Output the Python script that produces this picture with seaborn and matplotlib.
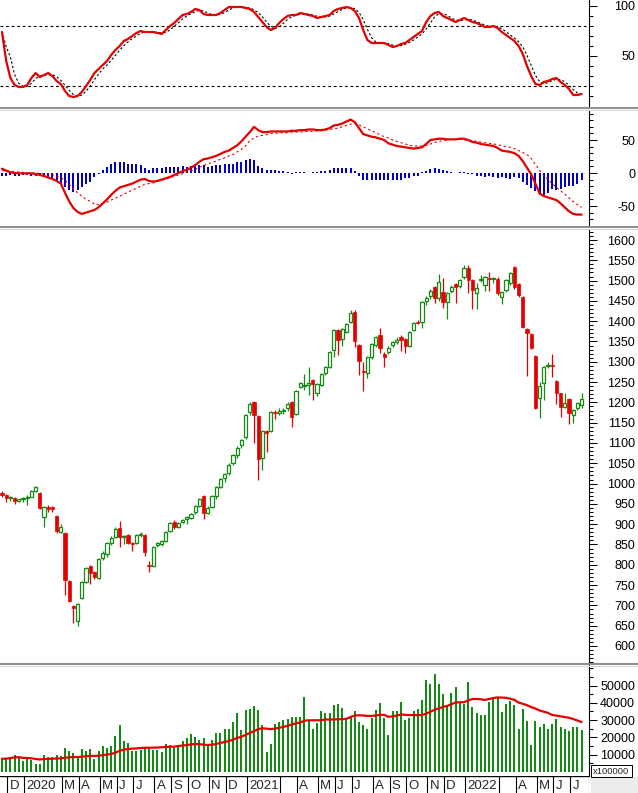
import numpy as np
import pandas as pd
import matplotlib
matplotlib.use("Agg")
import matplotlib.pyplot as plt
import seaborn as sns
from matplotlib.lines import Line2D
from matplotlib.patches import Rectangle

sns.set_style("white")
plt.rcParams['font.family'] = ['Liberation Sans', 'DejaVu Sans']

# ---------------- data (weekly bars, Nov 2019 - Jul 2022) ----------------
open_ = [978, 972, 964, 965, 958, 961, 964, 968, 982, 978,
         918, 942, 942, 920, 880, 878, 760, 698, 662, 718,
         758, 797, 782, 768, 817, 826, 853, 869, 890, 868,
         873, 853, 853, 873, 873, 799, 797, 849, 850, 858,
         883, 905, 893, 905, 912, 915, 930, 945, 970, 928,
         943, 970, 991, 1014, 1026, 1050, 1070, 1095, 1115, 1176,
         1201, 1166, 1063, 1130, 1130, 1176, 1174, 1178, 1186, 1201,
         1171, 1238, 1241, 1242, 1255, 1223, 1243, 1272, 1287, 1329,
         1378, 1355, 1374, 1399, 1423, 1341, 1277, 1272, 1312, 1341,
         1366, 1320, 1324, 1341, 1348, 1361, 1356, 1339, 1378, 1399,
         1398, 1450, 1462, 1484, 1457, 1472, 1447, 1475, 1491, 1487,
         1509, 1531, 1502, 1470, 1501, 1489, 1507, 1504, 1504, 1460,
         1477, 1494, 1534, 1492, 1460, 1381, 1368, 1314, 1211, 1248,
         1290, 1291, 1253, 1222, 1189, 1208, 1170, 1186, 1194]
high = [982, 974, 970, 967, 963, 968, 972, 984, 993, 980,
        945, 948, 946, 922, 900, 880, 762, 702, 705, 760,
        795, 800, 785, 816, 835, 856, 870, 892, 908, 874,
        876, 855, 876, 880, 875, 810, 846, 857, 862, 884,
        906, 910, 906, 914, 920, 928, 948, 965, 973, 945,
        972, 994, 1014, 1026, 1050, 1073, 1092, 1110, 1172, 1200,
        1203, 1170, 1133, 1132, 1178, 1181, 1187, 1185, 1200, 1203,
        1230, 1250, 1270, 1288, 1258, 1248, 1273, 1290, 1327, 1382,
        1380, 1383, 1396, 1428, 1428, 1344, 1300, 1315, 1347, 1364,
        1383, 1323, 1338, 1352, 1360, 1365, 1358, 1377, 1398, 1402,
        1450, 1462, 1480, 1487, 1516, 1507, 1473, 1490, 1494, 1505,
        1539, 1539, 1505, 1494, 1513, 1512, 1520, 1510, 1508, 1475,
        1505, 1522, 1536, 1495, 1462, 1384, 1370, 1316, 1250, 1290,
        1300, 1318, 1256, 1224, 1222, 1210, 1184, 1202, 1223]
low = [968, 955, 958, 950, 955, 955, 948, 966, 980, 938,
       893, 930, 930, 878, 878, 726, 708, 656, 650, 716,
       756, 752, 765, 765, 812, 820, 848, 866, 844, 850,
       852, 835, 850, 868, 822, 782, 795, 845, 846, 855,
       880, 888, 890, 902, 900, 912, 926, 942, 913, 925,
       940, 962, 988, 1005, 1022, 1045, 1062, 1088, 1110, 1170,
       1100, 1009, 1034, 1078, 1128, 1158, 1170, 1172, 1180, 1139,
       1168, 1235, 1231, 1218, 1206, 1215, 1240, 1268, 1285, 1312,
       1317, 1340, 1370, 1396, 1336, 1268, 1228, 1260, 1308, 1336,
       1322, 1287, 1320, 1336, 1345, 1327, 1322, 1336, 1375, 1392,
       1383, 1440, 1455, 1445, 1450, 1432, 1405, 1470, 1446, 1482,
       1505, 1470, 1430, 1430, 1497, 1475, 1475, 1495, 1465, 1442,
       1472, 1490, 1480, 1460, 1383, 1265, 1332, 1183, 1162, 1206,
       1285, 1262, 1196, 1164, 1185, 1147, 1150, 1182, 1185]
close = [972, 965, 966, 958, 961, 965, 968, 982, 991, 940,
         942, 938, 938, 883, 893, 763, 711, 694, 703, 758,
         792, 780, 770, 814, 829, 853, 866, 888, 868, 870,
         854, 850, 873, 876, 832, 796, 844, 853, 858, 881,
         903, 893, 903, 911, 917, 925, 945, 962, 928, 940,
         970, 991, 1011, 1023, 1046, 1070, 1088, 1107, 1169, 1196,
         1169, 1061, 1130, 1125, 1176, 1173, 1179, 1181, 1196, 1164,
         1228, 1248, 1243, 1248, 1245, 1245, 1270, 1287, 1324, 1378,
         1354, 1380, 1393, 1420, 1351, 1302, 1275, 1312, 1344, 1361,
         1334, 1313, 1334, 1349, 1354, 1354, 1339, 1374, 1395, 1396,
         1447, 1457, 1475, 1457, 1497, 1447, 1470, 1484, 1485, 1502,
         1531, 1502, 1477, 1482, 1503, 1509, 1505, 1507, 1470, 1472,
         1502, 1519, 1484, 1465, 1386, 1371, 1334, 1186, 1241, 1287,
         1292, 1289, 1222, 1189, 1199, 1174, 1181, 1198, 1208]
volume = [7700, 7700, 8650, 10000, 8650, 6300, 7700, 6700, 4400, 4400,
          10000, 8650, 8650, 9600, 9200, 14000, 12100, 11000, 8300, 13500,
          12100, 13500, 7300, 12100, 14800, 14000, 14800, 20600, 26900, 17700,
          16700, 12100, 12100, 12900, 14000, 13500, 12900, 12900, 11500, 16300,
          15400, 14000, 15400, 17700, 19800, 21700, 20200, 18300, 19800, 15400,
          18700, 22500, 22500, 25000, 25000, 28800, 34000, 24000, 36000, 36500,
          37900, 35600, 26900, 11500, 16000, 27500, 28800, 29800, 30800, 31700,
          31700, 32000, 43500, 29600, 25000, 28200, 35000, 34000, 34000, 38600,
          39200, 36900, 30800, 32000, 35000, 28900, 26900, 24600, 31400, 35700,
          39800, 31000, 21100, 35000, 35000, 40600, 30000, 31400, 35000, 36300,
          41600, 52900, 51000, 56800, 51000, 45100, 38200, 45700, 49000, 40600,
          39200, 52300, 37300, 34300, 32700, 32700, 40600, 42500, 42500, 34700,
          39200, 41200, 38600, 25100, 36700, 29400, 15800, 29400, 25900, 27500,
          25100, 27500, 30800, 25900, 25100, 23500, 25900, 25900, 24100]
stoch_k = [74, 45, 28, 21, 19, 19, 21, 28, 33, 29,
           31, 33, 30, 25, 22, 15, 10, 9, 10, 14,
           20, 26, 33, 37, 41, 45, 51, 56, 60, 65,
           67, 70, 73, 75, 74, 74, 74, 73, 72, 76,
           80, 83, 87, 91, 92, 94, 97, 96, 92, 91,
           91, 91, 93, 96, 99, 99, 99, 99, 98, 97,
           94, 89, 84, 79, 76, 78, 83, 87, 90, 91,
           91, 93, 92, 91, 90, 88, 89, 90, 91, 95,
           97, 98, 99, 98, 95, 88, 76, 66, 63, 63,
           63, 63, 61, 59, 60, 62, 63, 66, 69, 72,
           75, 84, 90, 93, 94, 90, 88, 86, 84, 86,
           88, 86, 84, 83, 81, 79, 79, 80, 78, 74,
           71, 68, 65, 60, 52, 40, 30, 22, 21, 24,
           25, 27, 28, 24, 21, 17, 11, 11, 12]
macd = [6.5, 3.5, 1, 0, -0.5, -0.5, -0.5, -0.5, -1.5, -3,
        -4.5, -7, -9, -12, -16, -30, -43, -53, -59, -62,
        -60, -58, -56, -52, -46, -40, -33, -27, -22, -20,
        -18, -16, -13, -10, -9, -12, -13, -12, -10, -8,
        -6, -3, 0, 3, 5, 8, 12, 17, 21, 22,
        24, 26, 29, 32, 34, 38, 42, 48, 55, 62,
        70, 65, 62, 62, 63, 63, 63, 63, 63, 64,
        64, 65, 65, 66, 66, 65, 65, 66, 68, 72,
        73, 75, 78, 81, 77, 68, 59, 57, 55, 54,
        52, 50, 45, 43, 41, 40, 39, 38, 37, 38,
        39, 44, 50, 51, 52, 52, 51, 51, 51, 52,
        52, 50, 47, 46, 44, 43, 42, 41, 38, 34,
        33, 32, 30, 26, 18, 8, -2, -16, -31, -35,
        -37, -39, -41, -46, -52, -58, -62, -63, -63]
macd_signal = [4, 3, 2.5, 2, 1.5, 1, 0.5, 0, 0, -0.5,
               -1, -2, -3, -5, -7, -11, -17, -24, -30, -35,
               -40, -43, -47, -48, -46, -44, -41, -38, -35, -32,
               -29, -26, -23, -20, -17, -16, -15, -13, -11, -9,
               -7, -5, -3, -1, 1, 3, 5, 9, 11, 14,
               16, 18, 21, 23, 26, 28, 32, 36, 41, 49,
               53, 56, 57, 58, 60, 60, 61, 61, 61, 62,
               62, 62, 63, 63, 63, 64, 64, 65, 66, 67,
               68, 70, 72, 74, 75, 73, 70, 67, 64, 61,
               58, 55, 53, 50, 48, 46, 44, 42, 41, 41,
               41, 42, 44, 46, 48, 49, 50, 51, 51, 51,
               50, 50, 49, 48, 47, 46, 45, 44, 43, 41,
               40, 39, 37, 34, 31, 28, 22, 13, 4, -3,
               -10, -16, -22, -27, -32, -38, -43, -48, -52]
macd_hist = [-4, -4, -3, -4, -4, -3, -3, -4, -4, -5,
             -6, -7, -8, -10, -16, -21, -26, -29, -26, -21,
             -16, -13, -6, -1, 4, 9, 14, 16, 16, 16,
             13, 13, 13, 12, 8, 4, 7, 7, 7, 9,
             9, 9, 9, 11, 9, 11, 11, 12, 12, 9,
             11, 12, 12, 13, 14, 14, 16, 16, 19, 21,
             19, 11, 8, 4, 4, 4, 3, 3, 2, -1,
             2, 1, 1, 0.5, 1, 1, 3, 3, 4, 7,
             8, 8, 8, 8, 3, -4, -10, -11, -11, -11,
             -10, -11, -11, -10, -10, -10, -8, -8, -5, -4,
             2, 3, 6, 7, 6, 4, 3, 2, 0.5, 2,
             2, -1, -1, -4, -5, -6, -5, -6, -8, -6,
             -8, -9, -6, -8, -13, -18, -23, -28, -34, -34,
             -30, -24, -26, -24, -21, -20, -19, -16, -11]

# month separators on the time strip (bar index of first week of month)
month_labels = ["D", "2020", "M", "A", "M", "J", "J", "A", "S", "O", "N", "D",
                "2021", "", "A", "M", "J", "J", "A", "S", "O", "N", "D",
                "2022", "", "A", "M", "J", "J"]
month_bar = [1, 5, 14, 18, 23, 27, 31, 36, 40, 44, 49, 53,
             58, 66, 70, 75, 79, 83, 88, 92, 96, 101, 105,
             110, 118, 122, 127, 131, 135]

stoch_ticks = [50, 100]
macd_ticks = [-50, 0, 50]
price_ticks = list(range(600, 1601, 50))
vol_ticks = [10000, 20000, 30000, 40000, 50000]
vol_unit = "x100000"

# ---------------- derived ----------------
n = len(close)
idx = np.arange(n)
o = np.array(open_, float); c = np.array(close, float)
h = np.array(high, float); l = np.array(low, float)
vol = np.array(volume, float)
vol_ma = pd.Series(vol).rolling(20, min_periods=1).mean().values
stoch_d = pd.Series(stoch_k, dtype=float).rolling(3, min_periods=1).mean().values

RED = "#e40000"
GREEN = "#138a13"
BLUE = "#0000c8"

W, H = 638, 793
AXW = 589
PX = 4.2
XLIM = (-2 / PX, (AXW - 2) / PX)

fig = plt.figure(figsize=(W / 100, H / 100), dpi=100)
fig.patch.set_facecolor("white")


def add_ax(top, bottom):
    return fig.add_axes([0, 1 - bottom / H, AXW / W, (bottom - top) / H])


def style(ax, ylim, major, minor, labels):
    ax.set_xlim(XLIM)
    ax.set_ylim(ylim)
    ax.set_facecolor("white")
    for s in ["top", "left", "bottom"]:
        ax.spines[s].set_visible(False)
    ax.spines["right"].set_color("black")
    ax.spines["right"].set_linewidth(0.8)
    ax.yaxis.tick_right()
    ax.set_yticks(major)
    ax.set_yticklabels(labels)
    ax.set_yticks(minor, minor=True)
    ax.tick_params(axis="y", which="major", direction="out", length=5.8,
                   width=0.75, pad=27.4, labelsize=9, colors="black")
    ax.tick_params(axis="y", which="minor", direction="out", length=2.9,
                   width=0.75, colors="black")
    plt.setp(ax.get_yticklabels(), ha="right")
    ax.set_xticks([])
    ax.set_xlabel("")
    ax.set_ylabel("")


# ---- stochastic ----
ax_s = add_ax(0, 107)
ax_s.axhline(80, color="black", lw=0.8, ls=(0, (2.5, 2.5)))
ax_s.axhline(20, color="black", lw=0.8, ls=(0, (2.5, 2.5)))
sns.lineplot(x=idx, y=stoch_d, ax=ax_s, color="black", lw=0.8,
             linestyle=(0, (2, 2)), estimator=None)
sns.lineplot(x=idx, y=stoch_k, ax=ax_s, color=RED, lw=1.6, estimator=None)
style(ax_s, (-1, 106), stoch_ticks, list(range(10, 101, 10)),
      [str(t) for t in stoch_ticks])

# ---- MACD ----
ax_m = add_ax(110, 226)
ax_m.bar(idx, macd_hist, width=0.45, color=BLUE, lw=0)
sns.lineplot(x=idx, y=macd_signal, ax=ax_m, color=RED, lw=0.8,
             linestyle=(0, (2, 2.5)), estimator=None)
sns.lineplot(x=idx, y=macd, ax=ax_m, color=RED, lw=1.6, estimator=None)
style(ax_m, (-80.3, 95.5), macd_ticks, list(range(-70, 91, 10)),
      [str(t) for t in macd_ticks])

# ---- price candles ----
ax_p = add_ax(229, 663)
up = c >= o
body_lo = np.minimum(o, c)
body_h = np.maximum(np.abs(c - o), 1.3)
wick_col = np.where(up, GREEN, RED)
ax_p.vlines(idx, l, h, colors=wick_col, lw=0.9, zorder=2)
ax_p.bar(idx[up], body_h[up], bottom=body_lo[up], width=0.72,
         facecolor="white", edgecolor=GREEN, linewidth=0.9, zorder=3)
ax_p.bar(idx[~up], body_h[~up], bottom=body_lo[~up], width=0.72,
         facecolor=RED, edgecolor=RED, linewidth=0.5, zorder=3)
style(ax_p, (558.1, 1627.1), price_ticks, list(range(560, 1621, 10)),
      [str(t) for t in price_ticks])

# ---- volume ----
ax_v = add_ax(665, 776)
ax_v.bar(idx, vol, width=0.5, color=GREEN, lw=0)
sns.lineplot(x=idx, y=vol_ma, ax=ax_v, color=RED, lw=1.6, estimator=None)
style(ax_v, (-2312, 61850), vol_ticks, list(range(5000, 60001, 5000)),
      [str(t) for t in vol_ticks])

# ---- time strip ----
ax_d = add_ax(776, 793)
ax_d.set_xlim(XLIM)
ax_d.set_ylim(0, 1)
ax_d.axis("off")
ax_d.axhline(1, color="black", lw=1.0)
for lab, b in zip(month_labels, month_bar):
    ax_d.axvline(b + 0.3, color="black", lw=0.8)
    if lab:
        ax_d.text(b + 0.8, 0.42, lab, ha="left", va="center", fontsize=9.5)
ax_d.axvline(XLIM[1], color="black", lw=0.8)

# gray corner and unit box
fig.add_artist(Rectangle((591 / W, 0), (W - 591) / W, 16 / H,
                         transform=fig.transFigure, color="#ececec", zorder=20))
fig.add_artist(Rectangle((591 / W, 1 - 777 / H), 41 / W, 12 / H,
                         transform=fig.transFigure, facecolor="white",
                         edgecolor="black", lw=0.7, zorder=21))
fig.text(611.5 / W, 1 - 771 / H, vol_unit, ha="center", va="center",
         fontsize=6.8, zorder=22)

# panel separators
for yy in (108, 227, 664):
    fig.add_artist(Line2D([0, 1], [1 - yy / H, 1 - yy / H], transform=fig.transFigure,
                          color="#8e8e8e", lw=1.4, zorder=10))
    fig.add_artist(Line2D([0, 1], [1 - (yy + 1.5) / H, 1 - (yy + 1.5) / H],
                          transform=fig.transFigure, color="#d6d6d6", lw=0.8, zorder=10))

fig.savefig("out.png", dpi=100, facecolor="white")
